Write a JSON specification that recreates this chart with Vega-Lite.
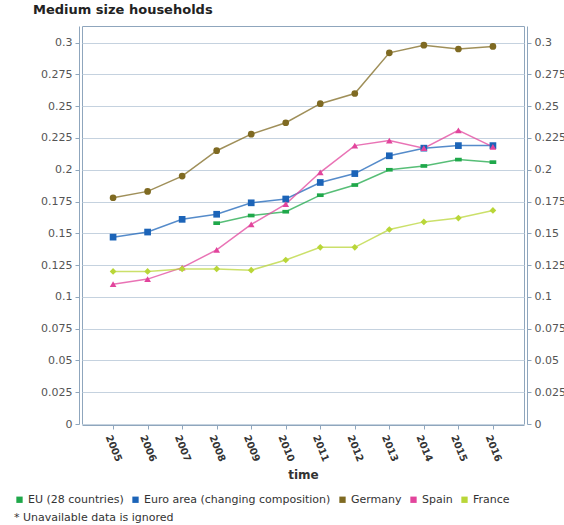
{
  "$schema": "https://vega.github.io/schema/vega-lite/v6.json",
  "autosize": "none",
  "width": 442,
  "height": 398,
  "padding": {"left": 82, "top": 26, "right": 40, "bottom": 101},
  "background": "white",
  "title": {"text": "Medium size households", "anchor": "start", "frame": "group", "dx": -49, "offset": 9, "fontSize": 13, "fontWeight": "bold", "font": "DejaVu Sans", "color": "#222222"},
  "config": {
    "view": {"stroke": "#8fa6bd", "strokeWidth": 1},
    "font": "DejaVu Sans",
    "axis": {"labelFont": "DejaVu Sans", "titleFont": "DejaVu Sans"}
  },
  "data": {"values": [
    {"year": "2005", "series": "Germany", "value": 0.178},
    {"year": "2006", "series": "Germany", "value": 0.183},
    {"year": "2007", "series": "Germany", "value": 0.195},
    {"year": "2008", "series": "Germany", "value": 0.215},
    {"year": "2009", "series": "Germany", "value": 0.228},
    {"year": "2010", "series": "Germany", "value": 0.237},
    {"year": "2011", "series": "Germany", "value": 0.252},
    {"year": "2012", "series": "Germany", "value": 0.260},
    {"year": "2013", "series": "Germany", "value": 0.292},
    {"year": "2014", "series": "Germany", "value": 0.298},
    {"year": "2015", "series": "Germany", "value": 0.295},
    {"year": "2016", "series": "Germany", "value": 0.297},
    {"year": "2005", "series": "Euro area (changing composition)", "value": 0.147},
    {"year": "2006", "series": "Euro area (changing composition)", "value": 0.151},
    {"year": "2007", "series": "Euro area (changing composition)", "value": 0.161},
    {"year": "2008", "series": "Euro area (changing composition)", "value": 0.165},
    {"year": "2009", "series": "Euro area (changing composition)", "value": 0.174},
    {"year": "2010", "series": "Euro area (changing composition)", "value": 0.177},
    {"year": "2011", "series": "Euro area (changing composition)", "value": 0.190},
    {"year": "2012", "series": "Euro area (changing composition)", "value": 0.197},
    {"year": "2013", "series": "Euro area (changing composition)", "value": 0.211},
    {"year": "2014", "series": "Euro area (changing composition)", "value": 0.217},
    {"year": "2015", "series": "Euro area (changing composition)", "value": 0.219},
    {"year": "2016", "series": "Euro area (changing composition)", "value": 0.219},
    {"year": "2008", "series": "EU (28 countries)", "value": 0.158},
    {"year": "2009", "series": "EU (28 countries)", "value": 0.164},
    {"year": "2010", "series": "EU (28 countries)", "value": 0.167},
    {"year": "2011", "series": "EU (28 countries)", "value": 0.180},
    {"year": "2012", "series": "EU (28 countries)", "value": 0.188},
    {"year": "2013", "series": "EU (28 countries)", "value": 0.200},
    {"year": "2014", "series": "EU (28 countries)", "value": 0.203},
    {"year": "2015", "series": "EU (28 countries)", "value": 0.208},
    {"year": "2016", "series": "EU (28 countries)", "value": 0.206},
    {"year": "2005", "series": "Spain", "value": 0.110},
    {"year": "2006", "series": "Spain", "value": 0.114},
    {"year": "2007", "series": "Spain", "value": 0.123},
    {"year": "2008", "series": "Spain", "value": 0.137},
    {"year": "2009", "series": "Spain", "value": 0.157},
    {"year": "2010", "series": "Spain", "value": 0.173},
    {"year": "2011", "series": "Spain", "value": 0.198},
    {"year": "2012", "series": "Spain", "value": 0.219},
    {"year": "2013", "series": "Spain", "value": 0.223},
    {"year": "2014", "series": "Spain", "value": 0.217},
    {"year": "2015", "series": "Spain", "value": 0.231},
    {"year": "2016", "series": "Spain", "value": 0.218},
    {"year": "2005", "series": "France", "value": 0.120},
    {"year": "2006", "series": "France", "value": 0.120},
    {"year": "2007", "series": "France", "value": 0.122},
    {"year": "2008", "series": "France", "value": 0.122},
    {"year": "2009", "series": "France", "value": 0.121},
    {"year": "2010", "series": "France", "value": 0.129},
    {"year": "2011", "series": "France", "value": 0.139},
    {"year": "2012", "series": "France", "value": 0.139},
    {"year": "2013", "series": "France", "value": 0.153},
    {"year": "2014", "series": "France", "value": 0.159},
    {"year": "2015", "series": "France", "value": 0.162},
    {"year": "2016", "series": "France", "value": 0.168}
  ]},
  "encoding": {
    "x": {"field": "year", "type": "ordinal", "scale": {"type": "point", "padding": 0.9},
      "axis": {"title": "time", "labelAngle": 68, "labelAlign": "center", "labelBaseline": "middle", "labelPadding": 19, "labelFontSize": 10, "labelFontWeight": "bold", "labelColor": "#333333", "tickColor": "#8fa6bd", "tickSize": 4, "domainColor": "#8fa6bd", "offset": 1, "titleFontSize": 12, "titleFontWeight": "bold", "titleColor": "#333333", "titlePadding": 7, "grid": false}},
    "y": {"field": "value", "type": "quantitative", "scale": {"domain": [0, 0.3131], "nice": false, "zero": false}},
    "color": {"field": "series", "type": "nominal",
      "scale": {"domain": ["EU (28 countries)", "Euro area (changing composition)", "Germany", "Spain", "France"], "range": ["#1fa84a", "#1c64b8", "#7f6a22", "#e2449c", "#b9d638"]},
      "legend": {"orient": "none", "legendX": -68, "legendY": 468, "direction": "horizontal", "symbolType": "square", "symbolSize": 40, "symbolStrokeWidth": 0, "labelFontSize": 11, "labelColor": "#333333", "labelFont": "DejaVu Sans", "labelLimit": 0, "columnPadding": 6, "labelOffset": 3, "title": "* Unavailable data is ignored", "titleOrient": "bottom", "titleFontSize": 11, "titleFontWeight": "normal", "titleColor": "#333333", "titleFont": "DejaVu Sans", "titlePadding": 7, "titleAnchor": "start", "symbolOpacity": 1}
    }
  },
  "layer": [
    {
      "mark": {"type": "line", "strokeWidth": 1.5, "opacity": 0.75},
      "encoding": {
        "y": {"field": "value", "type": "quantitative", "axis": {"orient": "left", "title": null, "values": [0, 0.025, 0.05, 0.075, 0.1, 0.125, 0.15, 0.175, 0.2, 0.225, 0.25, 0.275, 0.3], "format": ".3~f", "offset": 3, "labelFontSize": 11, "labelColor": "#555555", "tickColor": "#8fa6bd", "tickSize": 4, "domainColor": "#8fa6bd", "labelPadding": 3, "grid": true, "gridColor": "#c5d2df", "gridWidth": 1}}
      }
    },
    {
      "mark": {"type": "point", "filled": true, "size": 45, "opacity": 1},
      "encoding": {
        "y": {"field": "value", "type": "quantitative", "axis": {"orient": "right", "title": null, "values": [0, 0.025, 0.05, 0.075, 0.1, 0.125, 0.15, 0.175, 0.2, 0.225, 0.25, 0.275, 0.3], "format": ".3~f", "offset": 3, "labelFontSize": 11, "labelColor": "#555555", "tickColor": "#8fa6bd", "tickSize": 4, "domainColor": "#8fa6bd", "labelPadding": 3, "grid": false}},
        "shape": {
          "condition": [
            {"test": "datum.series === 'EU (28 countries)'", "value": "M-1,-0.55H1V0.55H-1Z"},
            {"test": "datum.series === 'Germany'", "value": "circle"},
            {"test": "datum.series === 'Spain'", "value": "triangle-up"},
            {"test": "datum.series === 'France'", "value": "diamond"}
          ],
          "value": "square"
        }
      }
    }
  ],
  "resolve": {"axis": {"y": "independent"}}
}
